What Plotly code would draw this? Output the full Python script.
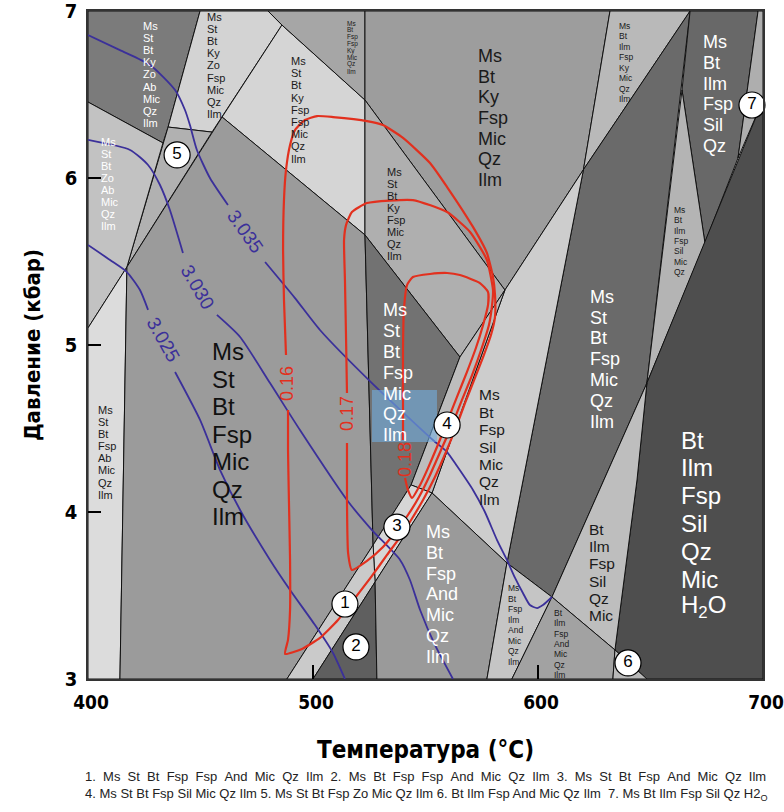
import plotly.graph_objects as go

FONT = "Liberation Sans, Arial, sans-serif"
NARROW = "Liberation Sans Narrow, Arial Narrow, DejaVu Sans Condensed, sans-serif"

# ---------------- phase fields: vertices as (T °C, P kbar) ----------------
ky_zo_ab = [(400, 7.0), (449.8, 7.0), (435.6, 6.305), (433.3, 6.21), (400, 6.455)]
ky_zo_fsp = [(449.8, 7.0), (480.0, 7.0), (486.2, 6.916), (459.6, 6.365), (455.1, 6.275), (435.6, 6.305)]
st_ky_fsp2 = [(486.2, 6.916), (523.1, 6.467), (523.1, 5.659), (459.6, 6.365)]
bt_ky_fsp2 = [(480.0, 7.0), (523.1, 7.0), (523.1, 6.467), (486.2, 6.916)]
field5 = [(435.6, 6.305), (455.1, 6.275), (417.3, 5.467), (433.3, 6.21)]
zo_ab = [(400, 6.455), (433.3, 6.21), (417.3, 5.467), (400, 5.102)]
fsp_ab = [(400, 5.102), (417.3, 5.467), (414.2, 3.0), (400, 3.0)]
st_main = [(417.3, 5.467), (459.6, 6.365), (523.1, 5.659), (526.7, 3.802), (488.4, 3.0), (414.2, 3.0)]
ky_main = [(523.1, 7.0), (632.0, 7.0), (620.2, 6.05), (585.3, 5.329), (523.1, 6.467)]
st_ky = [(523.1, 6.467), (585.3, 5.329), (565.3, 4.928), (523.1, 5.659)]
st_mid = [(523.1, 5.659), (565.3, 4.928), (543.6, 4.162), (526.7, 3.802)]
ky_ilm = [(632.0, 7.0), (667.6, 7.0), (620.2, 6.05)]
st_high = [(667.6, 7.0), (648.4, 4.772), (606.2, 3.491), (586.2, 3.695), (620.2, 6.05)]
sil_qz = [(667.6, 7.0), (697.8, 7.0), (688.9, 6.12), (674.2, 5.611), (664.0, 6.527)]
sil_mic = [(664.0, 6.527), (674.2, 5.611), (648.4, 4.772)]
field7 = [(697.8, 7.0), (700, 7.0), (700, 6.467), (688.9, 6.12)]
bt_h2o = [(700, 6.467), (648.4, 4.772), (644.0, 4.192), (634.2, 3.174), (648.4, 3.0), (700, 3.0)]
bt_sil = [(648.4, 4.772), (644.0, 4.192), (634.2, 3.174), (606.2, 3.491)]
ms_sil = [(620.2, 6.05), (586.2, 3.695), (552.9, 4.114), (585.3, 5.329)]
field4 = [(543.6, 4.162), (552.9, 4.114), (585.3, 5.329), (565.3, 4.928)]
field3 = [(526.7, 3.802), (527.6, 3.581), (552.9, 4.114), (543.6, 4.162)]
field1 = [(488.4, 3.0), (500.0, 3.0), (527.6, 3.581), (526.7, 3.802)]
field2 = [(500.0, 3.0), (527.6, 3.581), (528.4, 3.0)]
ms_and = [(527.6, 3.581), (552.9, 4.114), (586.2, 3.695), (577.3, 3.0), (528.4, 3.0)]
ms_and_small = [(586.2, 3.695), (606.2, 3.491), (588.4, 3.0), (577.3, 3.0)]
bt_and = [(606.2, 3.491), (634.2, 3.174), (633.3, 3.0), (588.4, 3.0)]
field6 = [(634.2, 3.174), (648.4, 3.0), (633.3, 3.0)]

# ---------------- isopleths ----------------
# blue isopleths, split where the label sits
iso_3035 = [
    [(400, 6.856), (414.2, 6.766), (427.6, 6.677), (438.7, 6.527), (443.1, 6.407), (445.3, 6.317),
     (448.4, 6.168), (454.2, 6.000), (462.2, 5.838)],
    [(478.7, 5.497), (492.0, 5.281), (503.1, 5.090), (526.2, 4.772), (553.3, 4.431), (559.6, 4.359),
     (564.0, 4.275), (571.1, 4.132), (576.4, 4.000), (581.8, 3.832), (586.2, 3.713), (589.8, 3.605),
     (593.3, 3.515), (596.4, 3.443), (599.6, 3.425), (602.2, 3.443), (606.2, 3.491)],
]
iso_3030 = [
    [(400, 6.228), (418.7, 6.168), (426.7, 6.078), (432.0, 5.958), (436.4, 5.808), (442.2, 5.551)],
    [(457.3, 5.180), (467.6, 5.048), (480.9, 4.772), (494.2, 4.491), (515.1, 4.072), (526.2, 3.892),
     (538.7, 3.713), (543.1, 3.593), (547.6, 3.413), (554.2, 3.204), (562.2, 3.0)],
]
iso_3025 = [
    [(400, 5.599), (409.8, 5.509), (417.3, 5.437), (423.1, 5.329), (426.7, 5.210)],
    [(438.7, 4.838), (449.8, 4.551), (458.7, 4.251), (467.6, 4.012), (480.9, 3.713), (489.8, 3.533),
     (500.9, 3.323), (508.9, 3.156), (514.2, 3.0)],
]
blue_labels = ["3.035", "3.030", "3.025"]
blue_label_T = [469.8, 448.9, 433.3]
blue_label_P = [5.677, 5.347, 5.030]

# red isopleths (closed loops, gap left for the label)
iso_016 = [(488.9, 4.611), (488.9, 4.371), (489.3, 4.072), (489.8, 3.713), (489.8, 3.413), (488.9, 3.234),
           (487.6, 3.150), (495.1, 3.180), (503.1, 3.246), (511.1, 3.353), (518.7, 3.485), (526.2, 3.617),
           (532.9, 3.743), (538.7, 3.850), (543.6, 3.952), (548.9, 4.072), (554.2, 4.210), (559.1, 4.359),
           (563.6, 4.509), (567.6, 4.653), (571.6, 4.790), (575.6, 4.928), (579.1, 5.060), (580.9, 5.168),
           (580.9, 5.299), (580.0, 5.407), (577.3, 5.551), (571.1, 5.707), (559.6, 5.946), (552.0, 6.090),
           (540.0, 6.240), (531.1, 6.317), (524.0, 6.341), (508.9, 6.365), (501.8, 6.371), (496.4, 6.347),
           (492.0, 6.287), (489.8, 6.198), (488.0, 6.048), (487.1, 5.868), (486.7, 5.569), (487.1, 5.269),
           (488.0, 4.940)]
iso_017 = [(515.1, 4.413), (515.1, 4.072), (515.6, 3.754), (517.3, 3.653), (524.0, 3.707), (531.1, 3.790),
           (537.3, 3.892), (542.2, 3.982), (547.1, 4.090), (552.0, 4.222), (556.9, 4.371), (561.8, 4.521),
           (566.2, 4.671), (570.7, 4.820), (574.7, 4.970), (578.2, 5.120), (579.6, 5.240), (580.0, 5.329),
           (577.3, 5.509), (569.8, 5.677), (559.6, 5.796), (544.4, 5.868), (524.0, 5.850), (517.3, 5.796),
           (514.7, 5.719), (513.8, 5.629), (514.2, 5.389), (514.7, 5.030), (515.1, 4.713)]
iso_018 = [(540.9, 4.204), (542.2, 4.132), (544.0, 4.084), (547.6, 4.162), (551.1, 4.263), (555.1, 4.389),
           (559.6, 4.539), (564.0, 4.689), (568.4, 4.838), (572.4, 4.982), (575.6, 5.120), (577.8, 5.240),
           (577.8, 5.317), (574.2, 5.371), (565.3, 5.419), (559.6, 5.431), (552.0, 5.425), (544.4, 5.407),
           (541.8, 5.359), (540.4, 5.210), (540.0, 4.970), (540.0, 4.671), (540.0, 4.431)]
red_labels = ["0.16", "0.17", "0.18"]
red_label_T = [488.4, 515.1, 540.9]
red_label_P = [4.772, 4.593, 4.311]

# highlighted P-T window
box_T = [526.2, 555.1]
box_P = [4.419, 4.731]

# numbered small fields
node_names = ["1", "2", "3", "4", "5", "6", "7"]
node_T = [514.2, 519.1, 537.3, 559.6, 439.6, 640.0, 695.1]
node_P = [3.449, 3.192, 3.910, 4.521, 6.138, 3.096, 6.437]

# assemblage labels
lab_ky_zo_ab = ["Ms", "St", "Bt", "Ky", "Zo", "Ab", "Mic", "Qz", "Ilm"]
lab_ky_zo_fsp = ["Ms", "St", "Bt", "Ky", "Zo", "Fsp", "Mic", "Qz", "Ilm"]
lab_st_ky_fsp2 = ["Ms", "St", "Bt", "Ky", "Fsp", "Fsp", "Mic", "Qz", "Ilm"]
lab_bt_ky_fsp2 = ["Ms", "Bt", "Fsp", "Fsp", "Ky", "Mic", "Qz", "Ilm"]
lab_zo_ab = ["Ms", "St", "Bt", "Zo", "Ab", "Mic", "Qz", "Ilm"]
lab_fsp_ab = ["Ms", "St", "Bt", "Fsp", "Ab", "Mic", "Qz", "Ilm"]
lab_st_main = ["Ms", "St", "Bt", "Fsp", "Mic", "Qz", "Ilm"]
lab_ky_main = ["Ms", "Bt", "Ky", "Fsp", "Mic", "Qz", "Ilm"]
lab_st_ky = ["Ms", "St", "Bt", "Ky", "Fsp", "Mic", "Qz", "Ilm"]
lab_st_mid = ["Ms", "St", "Bt", "Fsp", "Mic", "Qz", "Ilm"]
lab_ky_ilm = ["Ms", "Bt", "Ilm", "Fsp", "Ky", "Mic", "Qz", "Ilm"]
lab_st_high = ["Ms", "St", "Bt", "Fsp", "Mic", "Qz", "Ilm"]
lab_sil_qz = ["Ms", "Bt", "Ilm", "Fsp", "Sil", "Qz"]
lab_sil_mic = ["Ms", "Bt", "Ilm", "Fsp", "Sil", "Mic", "Qz"]
lab_bt_h2o = ["Bt", "Ilm", "Fsp", "Sil", "Qz", "Mic", "H<sub>2</sub>O"]
lab_bt_sil = ["Bt", "Ilm", "Fsp", "Sil", "Qz", "Mic"]
lab_ms_sil = ["Ms", "Bt", "Fsp", "Sil", "Mic", "Qz", "Ilm"]
lab_ms_and = ["Ms", "Bt", "Fsp", "And", "Mic", "Qz", "Ilm"]
lab_ms_and_small = ["Ms", "Bt", "Fsp", "Ilm", "And", "Mic", "Qz", "Ilm"]
lab_bt_and = ["Bt", "Ilm", "Fsp", "And", "Mic", "Qz", "Ilm"]

legend_line1 = ["1.", "Ms", "St", "Bt", "Fsp", "Fsp", "And", "Mic", "Qz", "Ilm", "2.", "Ms", "Bt", "Fsp", "Fsp",
                "And", "Mic", "Qz", "Ilm", "3.", "Ms", "St", "Bt", "Fsp", "And", "Mic", "Qz", "Ilm"]
legend_line2 = ("4. Ms St Bt Fsp Sil Mic Qz Ilm 5. Ms St Bt Fsp Zo Mic Qz Ilm 6. Bt Ilm Fsp And Mic Qz Ilm"
                "&nbsp; 7. Ms Bt Ilm Fsp Sil Qz H2<sub>O</sub>")

# ---------------- drawing ----------------
fig = go.Figure()

field_fill = [
    (ky_zo_ab, "#7b7b7b"), (ky_zo_fsp, "#d3d3d3"), (st_ky_fsp2, "#d5d5d5"), (bt_ky_fsp2, "#a6a6a6"),
    (field5, "#b1b1b1"), (zo_ab, "#c2c2c2"), (fsp_ab, "#dcdcdc"), (st_main, "#9b9b9b"),
    (ky_main, "#9d9d9d"), (st_ky, "#afafaf"), (st_mid, "#727272"), (ky_ilm, "#b9b9b9"),
    (st_high, "#6a6a6a"), (sil_qz, "#686868"), (sil_mic, "#b4b4b4"), (field7, "#aeaeae"),
    (bt_h2o, "#4e4e4e"), (bt_sil, "#bebebe"), (ms_sil, "#cdcdcd"), (field4, "#bdbdbd"),
    (field3, "#d6d6d6"), (field1, "#cacaca"), (field2, "#5f5f5f"), (ms_and, "#9a9a9a"),
    (ms_and_small, "#c5c5c5"), (bt_and, "#a2a2a2"), (field6, "#b8b8b8"),
]
for pts, col in field_fill:
    fig.add_trace(go.Scatter(
        x=[p[0] for p in pts] + [pts[0][0]], y=[p[1] for p in pts] + [pts[0][1]],
        mode="lines", fill="toself", fillcolor=col, line=dict(color="#111111", width=1),
        hoverinfo="skip", showlegend=False))

BLUE = "#3b309a"
RED = "#e2301e"
for iso in (iso_3035, iso_3030, iso_3025):
    for seg in iso:
        fig.add_trace(go.Scatter(x=[p[0] for p in seg], y=[p[1] for p in seg], mode="lines",
                                 line=dict(color=BLUE, width=1.8, shape="spline", smoothing=0.6),
                                 hoverinfo="skip", showlegend=False))

fig.add_trace(go.Scatter(
    x=[box_T[0], box_T[1], box_T[1], box_T[0], box_T[0]],
    y=[box_P[0], box_P[0], box_P[1], box_P[1], box_P[0]],
    mode="lines", fill="toself", fillcolor="rgba(115,175,225,0.6)", line=dict(width=0),
    hoverinfo="skip", showlegend=False))

for iso in (iso_016, iso_017, iso_018):
    fig.add_trace(go.Scatter(x=[p[0] for p in iso], y=[p[1] for p in iso], mode="lines",
                             line=dict(color=RED, width=2.2, shape="spline", smoothing=0.5),
                             hoverinfo="skip", showlegend=False))

fig.add_trace(go.Scatter(
    x=node_T, y=node_P, mode="markers+text", text=node_names, textposition="middle center",
    textfont=dict(size=17, color="black", family=FONT),
    marker=dict(size=26, color="white", line=dict(color="black", width=1.2)),
    cliponaxis=False, hoverinfo="skip", showlegend=False))

for txt, t, p, ang in zip(blue_labels, blue_label_T, blue_label_P, [55, 60, 61]):
    fig.add_annotation(x=t, y=p, text=txt, textangle=ang, showarrow=False,
                       font=dict(size=19, color=BLUE, family=FONT))
for txt, t, p in zip(red_labels, red_label_T, red_label_P):
    fig.add_annotation(x=t, y=p, text=txt, textangle=-90, showarrow=False,
                       font=dict(size=18, color=RED, family=FONT))


def stack(words, t, p, size, gap, color):
    for i, w in enumerate(words):
        fig.add_annotation(x=t, y=p, text=w, xanchor="left", yanchor="middle", yshift=-i * gap,
                           showarrow=False, borderpad=0, font=dict(size=size, color=color, family=FONT))


DARK = "#1a1a1a"
WHITE = "#ffffff"
stack(lab_ky_zo_ab, 424.0, 6.910, 11, 12.1, WHITE)
stack(lab_ky_zo_fsp, 452.3, 6.966, 11, 12.2, DARK)
stack(lab_st_ky_fsp2, 489.8, 6.701, 11, 12.2, DARK)
stack(lab_bt_ky_fsp2, 514.7, 6.928, 6.5, 6.9, DARK)
stack(lab_zo_ab, 405.3, 6.217, 11, 12.1, WHITE)
stack(lab_fsp_ab, 403.9, 4.611, 11, 12.1, DARK)
stack(lab_st_main, 454.7, 4.960, 24, 27.5, "#111111")
stack(lab_ky_main, 573.0, 6.731, 18, 20.7, DARK)
stack(lab_st_ky, 532.3, 6.038, 11, 12.1, DARK)
stack(lab_st_mid, 530.7, 5.207, 18, 20.8, WHITE)
stack(lab_ky_ilm, 635.7, 6.912, 8.5, 10.5, DARK)
stack(lab_st_high, 622.8, 5.289, 18, 20.8, WHITE)
stack(lab_sil_qz, 673.0, 6.813, 18, 20.7, WHITE)
stack(lab_sil_mic, 660.1, 5.808, 8.5, 10.3, DARK)
stack(lab_bt_h2o, 663.1, 4.431, 24, 27.8, WHITE)
stack(lab_bt_sil, 622.4, 3.896, 15.5, 17.3, DARK)
stack(lab_ms_sil, 573.5, 4.701, 15.5, 17.4, DARK)
stack(lab_ms_and, 549.8, 3.878, 18, 20.7, WHITE)
stack(lab_ms_and_small, 586.4, 3.543, 8.5, 10.5, DARK)
stack(lab_bt_and, 606.8, 3.397, 8.5, 10.4, DARK)

fig.add_annotation(xref="paper", yref="paper", x=0.5, y=-0.146, yanchor="middle", showarrow=False,
                   text=" &nbsp;".join(legend_line1), font=dict(size=13, color="#222", family=FONT))
fig.add_annotation(xref="paper", yref="paper", x=0.5, y=-0.173, yanchor="middle", showarrow=False,
                   text=legend_line2, font=dict(size=13, color="#222", family=FONT))

axis_common = dict(showgrid=False, zeroline=False, showline=True, linecolor="#333333", linewidth=1.5,
                   mirror=True, ticks="inside", tickcolor="black", tickwidth=1.5, automargin=False,
                   ticklabeloverflow="allow")
fig.update_xaxes(range=[400, 700], tickvals=[400, 500, 600, 700],
                 ticktext=["<b>400</b>", "<b>500</b>", "<b>600</b>", "<b>700</b>"], ticklen=14,
                 ticklabelshift=3, ticklabelstandoff=5,
                 tickfont=dict(size=19, color="black", family=NARROW),
                 title=dict(text="<b>Температура (°C)</b>", standoff=30,
                            font=dict(size=24, color="black", family=NARROW)), **axis_common)
fig.update_yaxes(range=[3, 7], tickvals=[3, 4, 5, 6, 7],
                 ticktext=["<b>3</b>", "<b>4</b>", "<b>5</b>", "<b>6</b>", "<b>7</b>"], ticklen=13,
                 ticklabelstandoff=5,
                 tickfont=dict(size=20, color="black", family=NARROW),
                 title=dict(text="<b>Давление (кбар)</b>", standoff=18,
                            font=dict(size=22, color="black", family=NARROW)), **axis_common)

fig.update_layout(width=784, height=812, margin=dict(l=88, r=21, t=11, b=133),
                  plot_bgcolor="white", paper_bgcolor="white", showlegend=False)

fig.write_html("out.html")
